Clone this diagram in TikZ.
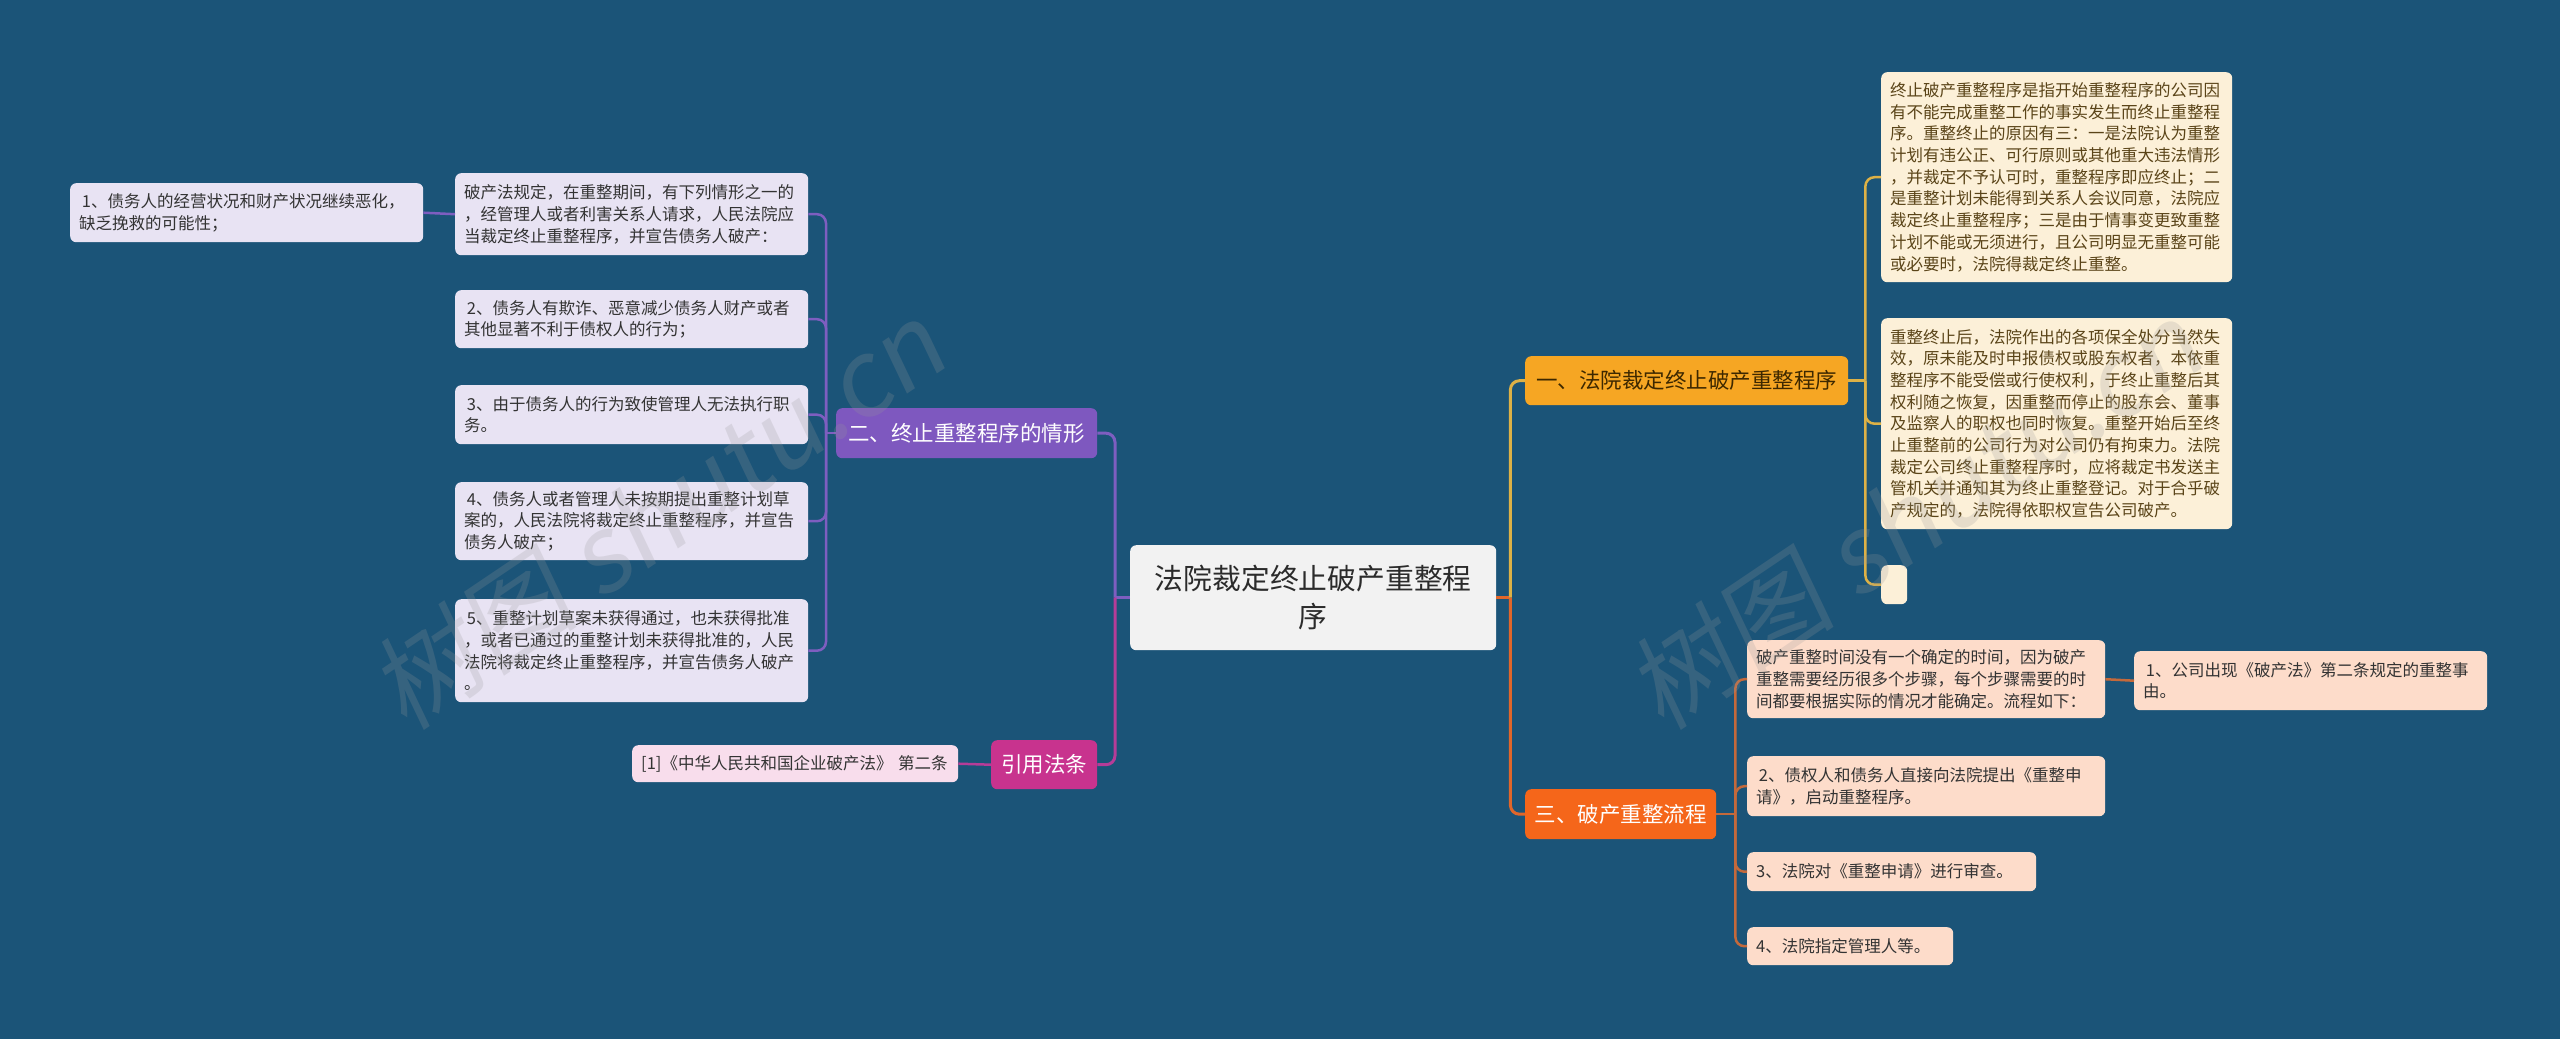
\documentclass[tikz,border=0pt]{standalone}
\usepackage{fontspec}
\setmainfont{Noto Sans CJK SC}
\newfontfamily\wmfont[FakeSlant=0.15]{Noto Sans CJK SC}
\definecolor{bg}{HTML}{1B5478}
\definecolor{cfill}{HTML}{F2F2F2}
\definecolor{ctext}{HTML}{2B2B2B}
\definecolor{yfill}{HTML}{F6A623}
\definecolor{ytext}{HTML}{3D2800}
\definecolor{cream}{HTML}{FCF0D8}
\definecolor{creamtext}{HTML}{5A4418}
\definecolor{pfill}{HTML}{7E58BF}
\definecolor{lav}{HTML}{E8E3F3}
\definecolor{mfill}{HTML}{C8338E}
\definecolor{pink}{HTML}{F8DDEC}
\definecolor{ofill}{HTML}{F5661A}
\definecolor{peach}{HTML}{FDDCCA}
\definecolor{dtext}{HTML}{333333}
\definecolor{lpur}{HTML}{7E5EC0}
\definecolor{lmag}{HTML}{B63C98}
\definecolor{lgold}{HTML}{DDB146}
\definecolor{lorg}{HTML}{E0662A}
\definecolor{lbrown}{HTML}{C4693B}
\begin{document}
\begin{tikzpicture}[x=1pt,y=-1pt,
  box/.style={rounded corners=6pt, inner xsep=9pt, inner ysep=2pt, anchor=north west, align=left,
    font=\fontsize{16.5}{21.7}\selectfont},
  lavbox/.style={box, fill=lav, text=dtext},
  creambox/.style={box, fill=cream, text=creamtext},
  peachbox/.style={box, fill=peach, text=dtext},
  branch/.style={rounded corners=6pt, inner sep=0pt, anchor=north west, align=center,
    font=\fontsize{21.5}{26}\selectfont},
  mainline/.style={line width=3pt, rounded corners=9pt},
  subline/.style={line width=2.5pt, rounded corners=9pt},
  wm/.style={font=\wmfont\fontsize{105}{105}\selectfont, text=gray!80, text opacity=0.22, inner sep=0pt}
]
\useasboundingbox (0,0) rectangle (2560,1039);
\fill[bg] (0,0) rectangle (2560,1039);

% centre
\node[branch, fill=cfill, text=ctext, minimum width=366pt, minimum height=105pt,
  font=\fontsize{28.8}{38.5}\selectfont] (center) at (1130,545) {法院裁定终止破产重整程\\序};

% left branch: 二
\node[branch, fill=pfill, text=white, minimum width=261pt, minimum height=50pt] (b2) at (836,408) {二、终止重整程序的情形};
\node[lavbox, text width=335pt, minimum height=82pt] (p0) at (455,173) {破产法规定，在重整期间，有下列情形之一的\\，经管理人或者利害关系人请求，人民法院应\\当裁定终止重整程序，并宣告债务人破产：};
\node[lavbox, text width=335pt, minimum height=59pt] (l1) at (70,183) {\,1、债务人的经营状况和财产状况继续恶化，\\缺乏挽救的可能性；};
\node[lavbox, text width=335pt, minimum height=58pt] (p2) at (455,290) {\,2、债务人有欺诈、恶意减少债务人财产或者\\其他显著不利于债权人的行为；};
\node[lavbox, text width=335pt, minimum height=59pt] (p3) at (455,385) {\,3、由于债务人的行为致使管理人无法执行职\\务。};
\node[lavbox, text width=335pt, minimum height=78pt] (p4) at (455,482) {\,4、债务人或者管理人未按期提出重整计划草\\案的，人民法院将裁定终止重整程序，并宣告\\债务人破产；};
\node[lavbox, text width=335pt, minimum height=103pt] (p5) at (455,599) {\,5、重整计划草案未获得通过，也未获得批准\\，或者已通过的重整计划未获得批准的，人民\\法院将裁定终止重整程序，并宣告债务人破产\\。};

% left branch: 引用法条
\node[branch, fill=mfill, text=white, minimum width=106pt, minimum height=49pt] (b4) at (991,740) {引用法条};
\node[box, fill=pink, text=dtext, text width=308pt, minimum height=37pt] (refc) at (632,745) {[1]《中华人民共和国企业破产法》 第二条};

% right branch: 一
\node[branch, fill=yfill, text=ytext, minimum width=323pt, minimum height=49pt] (b1) at (1525,356) {一、法院裁定终止破产重整程序};
\node[creambox, text width=333pt, minimum height=210pt] (c1) at (1881,72) {终止破产重整程序是指开始重整程序的公司因\\有不能完成重整工作的事实发生而终止重整程\\序。重整终止的原因有三：一是法院认为重整\\计划有违公正、可行原则或其他重大违法情形\\，并裁定不予认可时，重整程序即应终止；二\\是重整计划未能得到关系人会议同意，法院应\\裁定终止重整程序；三是由于情事变更致重整\\计划不能或无须进行，且公司明显无重整可能\\或必要时，法院得裁定终止重整。};
\node[creambox, text width=333pt, minimum height=211pt] (c2) at (1881,318) {重整终止后，法院作出的各项保全处分当然失\\效，原未能及时申报债权或股东权者，本依重\\整程序不能受偿或行使权利，于终止重整后其\\权利随之恢复，因重整而停止的股东会、董事\\及监察人的职权也同时恢复。重整开始后至终\\止重整前的公司行为对公司仍有拘束力。法院\\裁定公司终止重整程序时，应将裁定书发送主\\管机关并通知其为终止重整登记。对于合乎破\\产规定的，法院得依职权宣告公司破产。};
\node[rounded corners=6pt, fill=cream, inner sep=0pt, anchor=north west, minimum width=26pt, minimum height=39pt] (c3) at (1881,565) {};

% right branch: 三
\node[branch, fill=ofill, text=white, minimum width=191pt, minimum height=50pt] (b3) at (1525,789) {三、破产重整流程};
\node[peachbox, text width=340pt, minimum height=78pt] (r0) at (1747,640) {破产重整时间没有一个确定的时间，因为破产\\重整需要经历很多个步骤，每个步骤需要的时\\间都要根据实际的情况才能确定。流程如下：};
\node[peachbox, text width=335pt, minimum height=59pt] (r01) at (2134,651) {\,1、公司出现《破产法》第二条规定的重整事\\由。};
\node[peachbox, text width=340pt, minimum height=60pt] (r2) at (1747,756) {\,2、债权人和债务人直接向法院提出《重整申\\请》，启动重整程序。};
\node[peachbox, text width=271pt, minimum height=39pt] (r3) at (1747,852) {3、法院对《重整申请》进行审查。};
\node[peachbox, text width=188pt, minimum height=38pt] (r4) at (1747,927) {4、法院指定管理人等。};

% junctions
\coordinate (jL) at ([xshift=-15pt]center.west);
\coordinate (jR) at ([xshift=14pt]center.east);
\coordinate (j2) at ([xshift=-10pt]b2.west);
\coordinate (j1) at ([xshift=17pt]b1.east);
\coordinate (j3) at ([xshift=19pt]b3.east);

% main connectors
\draw[mainline, lpur] (center.west) -- (jL);
\draw[mainline, lpur] (jL) |- (b2.east);
\draw[mainline, lmag] (jL) |- (b4.east);
\draw[mainline, lorg] (center.east) -- (jR);
\draw[mainline, lgold] (jR) |- (b1.west);
\draw[mainline, lorg] (jR) |- (b3.west);

% 二 children
\draw[subline, lpur] (b2.west) -- (j2);
\foreach \n in {p0,p2,p3,p4,p5} \draw[subline, lpur] (j2) |- (\n.east);
\draw[subline, lpur] (p0.west) -- (l1.east);

% 引用 child
\draw[subline, lmag] (b4.west) -- (refc.east);

% 一 children
\draw[subline, lgold] (b1.east) -- (j1);
\foreach \n in {c1,c2,c3} \draw[subline, lgold] (j1) |- (\n.west);

% 三 children
\draw[subline, lbrown] (b3.east) -- (j3);
\foreach \n in {r0,r2,r3,r4} \draw[subline, lbrown] (j3) |- (\n.west);
\draw[subline, lbrown] (r0.east) -- (r01.west);

% watermark
\node[wm, rotate=34] (wm1) at (657,515) {树图 shutu.cn};
\node[wm, rotate=34] (wm2) at (1914,515) {树图 shutu.cn};
\end{tikzpicture}
\end{document}
